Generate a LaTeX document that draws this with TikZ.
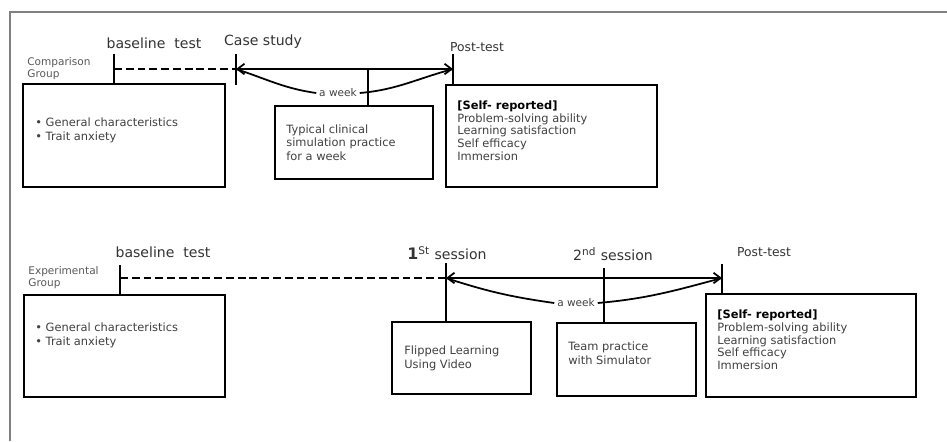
\documentclass[tikz,border=0pt]{standalone}
\usepackage{fontspec}
\setmainfont{DejaVu Sans}
\usetikzlibrary{arrows.meta}

\tikzset{
  panel/.style={draw, line width=1pt, inner sep=0pt},
  paneltext/.style={anchor=west, align=left, inner sep=0pt, text=black!75, font=\fontsize{6.5}{7.8}\selectfont},
  stage/.style={inner sep=0pt, text=black!80, font=\fontsize{8}{9}\selectfont},
  grouptag/.style={anchor=west, align=left, inner sep=0pt, text=black!65, font=\fontsize{6}{6.8}\selectfont},
  weektag/.style={inner sep=1.5pt, text=black!75, font=\fontsize{6}{7}\selectfont},
  tick/.style={line width=0.8pt},
  waitline/.style={line width=1.2pt, dash pattern=on 4.5pt off 2.2pt},
  span/.style={line width=1pt, {Straight Barb[length=4pt,width=6pt]}-{Straight Barb[length=4pt,width=6pt]}},
  brace/.style={line width=1pt},
}

\begin{document}
\begin{tikzpicture}[x=0.02cm, y=-0.02cm]
  \useasboundingbox (0,0) rectangle (947,441);
  % outer frame
  \draw[gray, line width=1pt] (10,441) -- (10,12) -- (947,12);

  % Comparison group
  \node[grouptag] (cgroup) at (27,69) {Comparison\\Group};
  \node[stage] (cbaselbl) at (154,43) {baseline\ \ test};
  \node[stage] (ccaselbl) at (263,42) {Case study};
  \node[stage, font=\fontsize{7}{8}\selectfont] (cpostlbl) at (477,47) {Post-test};

  \node[panel, minimum width=4.04cm, minimum height=2.06cm] (cbox) at (124,135.5) {};
  \node[panel, minimum width=3.16cm, minimum height=1.46cm] (ctyp) at (354,142.5) {};
  \node[panel, minimum width=4.22cm, minimum height=2.04cm] (cpost) at (551.5,136) {};

  \node[paneltext] (cboxtxt) at (35,130) {• General characteristics\\• Trait anxiety};
  \node[paneltext] (ctyptxt) at (286,142.5) {Typical clinical\\simulation practice\\for a week};
  \node[paneltext, font=\fontsize{6.5}{7.2}\selectfont] (cposttxt) at (457,130.5)
    {\textbf{\color{black}[Self- reported]}\\Problem-solving ability\\Learning satisfaction\\Self efficacy\\Immersion};

  \coordinate (cline) at (0,69);
  \coordinate (cbaseT) at (114,54);
  \coordinate (ccaseT) at (236,54);
  \coordinate (ccaseB) at (236,85);
  \coordinate (cpostT) at (453,54);
  \coordinate (cmid) at (368,69);
  \node[weektag] (cweek) at (338,93) {a week};

  \draw[tick] (cbaseT) -- (cbaseT |- cbox.north);
  \draw[tick] (ccaseT) -- (ccaseB);
  \draw[tick] (cpostT) -- (cpostT |- cpost.north);
  \draw[tick] (cmid) -- (cmid |- ctyp.north);
  \draw[waitline] (cbaseT |- cline) -- (ccaseT |- cline);
  \draw[span] (ccaseT |- cline) -- (cpostT |- cline);
  \draw[brace] (ccaseT |- cline) to[out=-18, in=172] (cweek.west);
  \draw[brace] (cweek.east) to[out=5, in=195] (cpostT |- cline);

  % Experimental group
  \node[grouptag] (egroup) at (28,278) {Experimental\\Group};
  \node[stage] (ebaselbl) at (163,252) {baseline\ \ test};
  \node[stage] (efirstlbl) at (447,253) {{\fontsize{9}{9}\selectfont\bfseries 1}\textsuperscript{St} session};
  \node[stage] (esecondlbl) at (613,254) {2\textsuperscript{nd} session};
  \node[stage, font=\fontsize{7}{8}\selectfont] (epostlbl) at (764,252) {Post-test};

  \node[panel, minimum width=4.02cm, minimum height=2.04cm] (ebox) at (124.5,346) {};
  \node[panel, minimum width=2.78cm, minimum height=1.44cm] (eflip) at (461.5,358) {};
  \node[panel, minimum width=2.78cm, minimum height=1.46cm] (eteam) at (626.5,359.5) {};
  \node[panel, minimum width=4.2cm, minimum height=2.06cm] (epost) at (811,345.5) {};

  \node[paneltext] (eboxtxt) at (35,335) {• General characteristics\\• Trait anxiety};
  \node[paneltext] (efliptxt) at (404,358) {Flipped Learning\\Using Video};
  \node[paneltext] (eteamtxt) at (568,353.5) {Team practice\\with Simulator};
  \node[paneltext, font=\fontsize{6.5}{7.2}\selectfont] (eposttxt) at (717,340)
    {\textbf{\color{black}[Self- reported]}\\Problem-solving ability\\Learning satisfaction\\Self efficacy\\Immersion};

  \coordinate (eline) at (0,278);
  \coordinate (ebaseT) at (120,265);
  \coordinate (efirstT) at (446,263);
  \coordinate (esecondT) at (604,268);
  \coordinate (epostT) at (722,264);
  \node[weektag] (eweek) at (576,303) {a week};

  \draw[tick] (ebaseT) -- (ebaseT |- ebox.north);
  \draw[tick] (efirstT) -- (efirstT |- eflip.north);
  \draw[tick] (esecondT) -- (esecondT |- eteam.north);
  \draw[tick] (epostT) -- (epostT |- epost.north);
  \draw[waitline] (ebaseT |- eline) -- (efirstT |- eline);
  \draw[span] (efirstT |- eline) -- (epostT |- eline);
  \draw[brace] (efirstT |- eline) to[out=-18, in=172] (eweek.west);
  \draw[brace] (eweek.east) to[out=5, in=195] (epostT |- eline);
\end{tikzpicture}
\end{document}
